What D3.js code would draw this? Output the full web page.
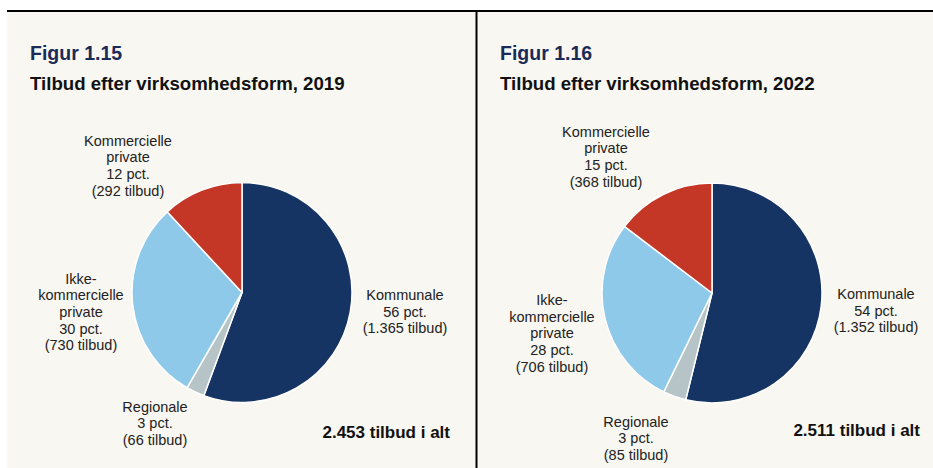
<!DOCTYPE html>
<html>
<head>
<meta charset="utf-8">
<script src="https://cdn.jsdelivr.net/npm/d3@7"></script>
<style>
  body { margin: 0; background: #fff; }
  svg text { font-family: "Liberation Sans", Arial, sans-serif; }
</style>
</head>
<body>
<svg id="chart" width="933" height="468"></svg>
<script>
// data
var categories = ['Kommunale', 'Regionale', 'Ikke-kommercielle private', 'Kommercielle private'];
var labelLines = [['Kommunale'], ['Regionale'], ['Ikke-', 'kommercielle', 'private'], ['Kommercielle', 'private']];
var tilbud2019 = [1365, 66, 730, 292];
var pct2019 = [56, 3, 30, 12];
var tilbud2022 = [1352, 85, 706, 368];
var pct2022 = [54, 3, 28, 15];
var figNumbers = ['Figur 1.15', 'Figur 1.16'];
var subtitles = ['Tilbud efter virksomhedsform, 2019', 'Tilbud efter virksomhedsform, 2022'];
var totals = ['2.453 tilbud i alt', '2.511 tilbud i alt'];

var colors = ['#163463', '#b7c4c7', '#8ec9ea', '#c43726'];

var svg = d3.select('#chart');

// background + frame
svg.append('rect').attr('x', 7).attr('y', 11).attr('width', 926).attr('height', 457).attr('fill', '#f8f7f1');
svg.append('line').attr('x1', 7).attr('x2', 933).attr('y1', 11).attr('y2', 11)
  .attr('stroke', '#000').attr('stroke-width', 2);
svg.append('line').attr('x1', 476.5).attr('x2', 476.5).attr('y1', 11).attr('y2', 468)
  .attr('stroke', '#000').attr('stroke-width', 2);

// layout for each panel: pie centre and label anchors (centre of first line)
var panels = [
  {
    x0: 30, cx: 242, cy: 292.5, r: 110,
    values: tilbud2019, pct: pct2019,
    labels: [[405, 295], [155, 406.5], [81, 278.5], [128, 140.5]],
    total: [450, 432]
  },
  {
    x0: 500, cx: 712, cy: 293, r: 110,
    values: tilbud2022, pct: pct2022,
    labels: [[876, 294], [636, 421.5], [552, 300], [606, 131.5]],
    total: [920, 430]
  }
];

var pie = d3.pie().sort(null).value(function(d) { return d; });
var lineH = 16.7;

panels.forEach(function(p, i) {
  var g = svg.append('g');

  g.append('text').attr('x', p.x0).attr('y', 60)
    .attr('font-size', 19.5).attr('font-weight', 'bold').attr('fill', '#1b2b57')
    .text(figNumbers[i]);
  g.append('text').attr('x', p.x0).attr('y', 89.5)
    .attr('font-size', 18.65).attr('font-weight', 'bold').attr('fill', '#111')
    .text(subtitles[i]);

  var arc = d3.arc().innerRadius(0).outerRadius(p.r);

  g.append('g')
    .attr('transform', 'translate(' + p.cx + ',' + p.cy + ')')
    .selectAll('path')
    .data(pie(p.values))
    .enter().append('path')
    .attr('d', arc)
    .attr('fill', function(d, k) { return colors[k]; })
    .attr('stroke', '#fff')
    .attr('stroke-width', 1.5)
    .attr('stroke-linejoin', 'round');

  p.values.forEach(function(v, k) {
    var lines = labelLines[k].concat([p.pct[k] + ' pct.', '(' + d3.format(',')(v).replace(/,/g, '.') + ' tilbud)']);
    var t = g.append('text')
      .attr('text-anchor', 'middle')
      .attr('font-size', 14.5)
      .attr('fill', '#222');
    lines.forEach(function(s, j) {
      t.append('tspan')
        .attr('x', p.labels[k][0])
        .attr('y', p.labels[k][1] + j * lineH)
        .attr('dy', '0.35em')
        .text(s);
    });
  });

  g.append('text').attr('x', p.total[0]).attr('y', p.total[1]).attr('dy', '0.35em')
    .attr('text-anchor', 'end').attr('font-size', 17).attr('font-weight', 'bold').attr('fill', '#111')
    .text(totals[i]);
});
</script>
</body>
</html>
